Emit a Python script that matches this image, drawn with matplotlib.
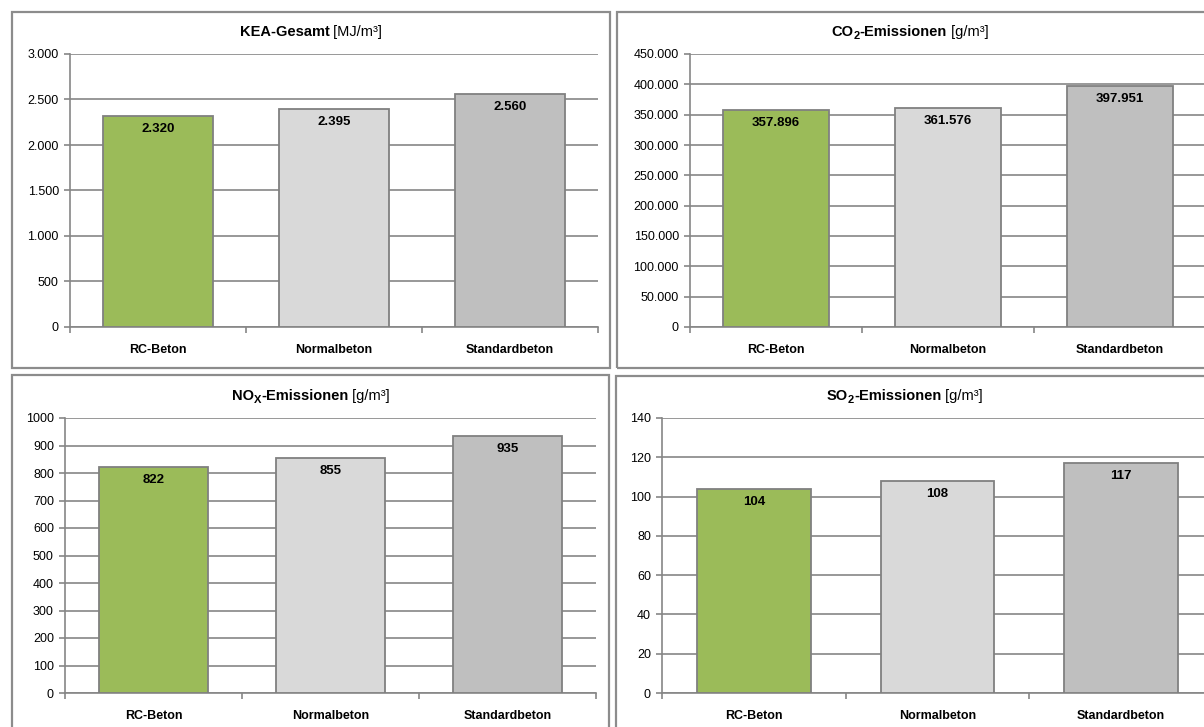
import matplotlib
matplotlib.use("Agg")
import matplotlib.pyplot as plt
from matplotlib.patches import Rectangle
from matplotlib.ticker import FuncFormatter, FixedLocator

plt.rcParams['font.family'] = ['Liberation Sans', 'DejaVu Sans']

W, H = 1204, 727

categories = ["RC-Beton", "Normalbeton", "Standardbeton"]
bar_colors = ["#9BBB59", "#D9D9D9", "#BFBFBF"]

kea_values = [2320, 2395, 2560]
co2_values = [357896, 361576, 397951]
nox_values = [822, 855, 935]
so2_values = [104, 108, 117]

kea_ticks = [0, 500, 1000, 1500, 2000, 2500, 3000]
co2_ticks = [0, 50000, 100000, 150000, 200000, 250000, 300000, 350000, 400000, 450000]
nox_ticks = [0, 100, 200, 300, 400, 500, 600, 700, 800, 900, 1000]
so2_ticks = [0, 20, 40, 60, 80, 100, 120, 140]

# title segments: (text, bold, subscript)
kea_title = [("KEA-Gesamt", True, False), (" [MJ/m³]", False, False)]
co2_title = [("CO", True, False), ("2", True, True), ("-Emissionen", True, False), (" [g/m³]", False, False)]
nox_title = [("NO", True, False), ("X", True, True), ("-Emissionen", True, False), (" [g/m³]", False, False)]
so2_title = [("SO", True, False), ("2", True, True), ("-Emissionen", True, False), (" [g/m³]", False, False)]

GRID = "#868686"
EDGE = "#808080"


def de_fmt(v, thousands=True):
    s = f"{v:,.0f}"
    return s.replace(",", ".") if thousands else s.replace(",", "")


fig = plt.figure(figsize=(W / 100, H / 100), dpi=100)
fig.patch.set_facecolor("white")
renderer = fig.canvas.get_renderer()

# panel frames (pixel coords: x0, y0, x1, y1)
panels = [(12, 12, 610, 368), (617, 12, 1212, 368), (12, 375, 609, 729), (616, 376, 1212, 729)]
for (x0, y0, x1, y1) in panels:
    fig.add_artist(Rectangle((x0 / W, 1 - y1 / H), (x1 - x0) / W, (y1 - y0) / H,
                             transform=fig.transFigure, fill=False,
                             edgecolor="#8c8c8c", linewidth=1.6))


def draw_title(segments, cx, baseline):
    texts = []
    total = 0
    for txt, bold, sub in segments:
        t = fig.text(0, 0, txt, fontsize=8 if sub else 10.5,
                     fontweight="bold" if bold else "normal",
                     va="baseline", ha="left", color="black")
        w = t.get_window_extent(renderer).width
        texts.append((t, w, sub))
        total += w
    x = cx - total / 2
    for t, w, sub in texts:
        y = baseline + (3 if sub else 0)
        t.set_position((x / W, 1 - y / H))
        x += w


def draw_panel(rect, values, ticks, title, title_cx, title_base, thousands=True):
    x0, y0, x1, y1 = rect
    ax = fig.add_axes([x0 / W, 1 - y1 / H, (x1 - x0) / W, (y1 - y0) / H])
    xs = list(range(len(categories)))
    ax.bar(xs, values, width=0.62, color=bar_colors, edgecolor=EDGE, linewidth=1.3, zorder=3)
    ax.set_xlim(-0.5, len(categories) - 0.5)
    ax.set_ylim(ticks[0], ticks[-1])
    ax.yaxis.set_major_locator(FixedLocator(ticks))
    ax.yaxis.set_major_formatter(FuncFormatter(lambda v, p: de_fmt(v, thousands)))
    ax.grid(axis="y", color=GRID, linewidth=1.2, zorder=0)
    ax.set_axisbelow(True)
    for s in ("top", "right"):
        ax.spines[s].set_visible(False)
    for s in ("left", "bottom"):
        ax.spines[s].set_color(GRID)
        ax.spines[s].set_linewidth(1.2)
    ax.tick_params(axis="y", direction="out", length=4, width=1.2, color=GRID,
                   labelsize=9, pad=4, labelcolor="black")
    ax.set_xticks(xs)
    ax.set_xticklabels(categories, fontweight="bold", fontsize=9)
    ax.set_xticks([i - 0.5 for i in range(len(categories) + 1)], minor=True)
    ax.tick_params(axis="x", which="major", length=0, pad=12)
    ax.tick_params(axis="x", which="minor", direction="out", length=4, width=1.2, color=GRID)
    for x, v in zip(xs, values):
        ax.annotate(de_fmt(v, thousands), (x, v), xytext=(0, -13), textcoords="offset pixels",
                    ha="center", va="center", fontsize=9.5, fontweight="bold", zorder=4)
    draw_title(title, title_cx, title_base)
    return ax


draw_panel((70, 54, 598, 327), kea_values, kea_ticks, kea_title, 311, 36)
draw_panel((690, 54, 1206, 327), co2_values, co2_ticks, co2_title, 910, 36)
draw_panel((65, 418, 596, 693), nox_values, nox_ticks, nox_title, 311, 400, thousands=False)
draw_panel((662, 418, 1213, 693), so2_values, so2_ticks, so2_title, 905, 400)

fig.savefig("out.png", dpi=100, facecolor="white")
